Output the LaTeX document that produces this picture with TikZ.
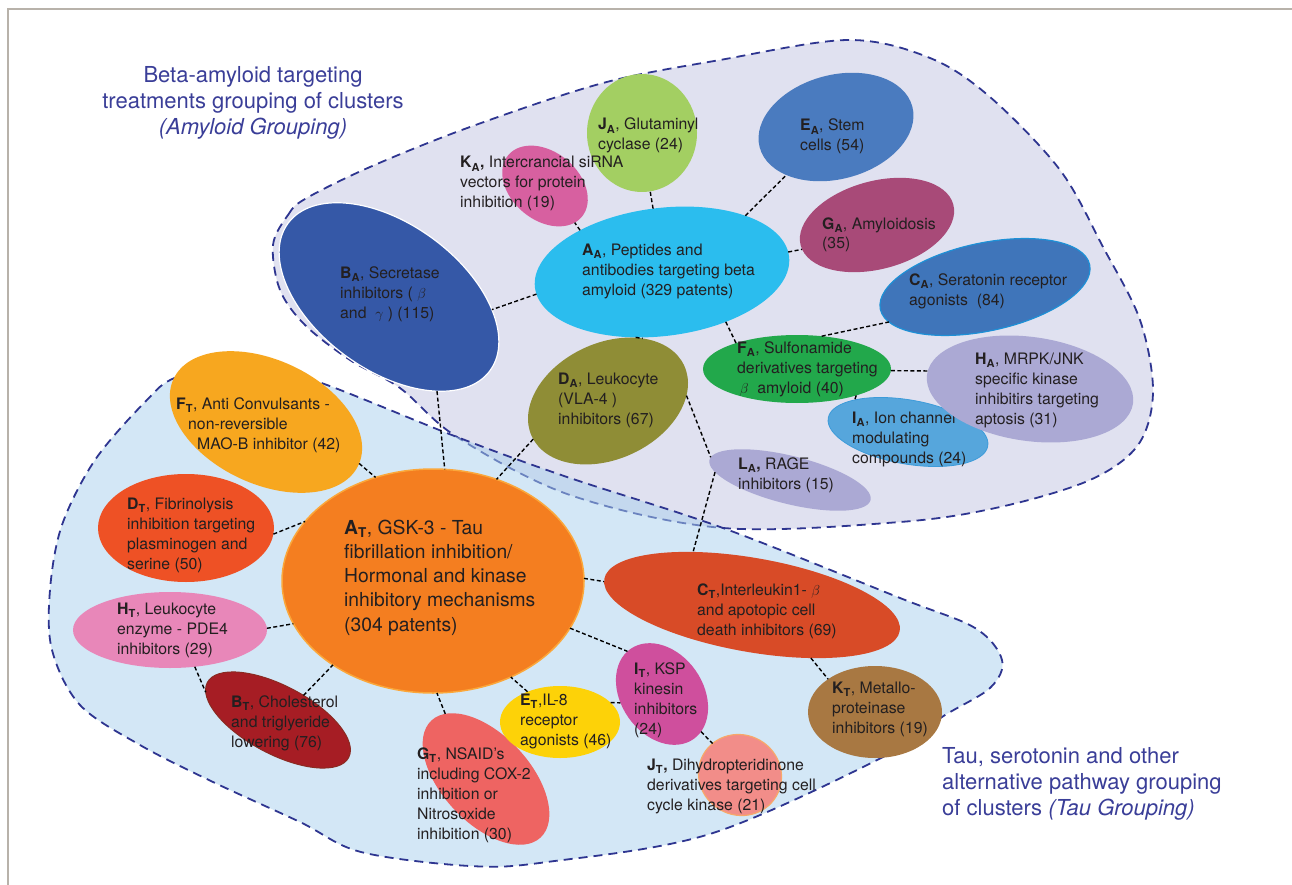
\documentclass[tikz,border=0pt]{standalone}
\usepackage{fontspec}
\setmainfont{TeX Gyre Heros}
\usetikzlibrary{shapes.geometric}
\definecolor{frameC}{HTML}{B8B2AA}
\definecolor{navyC}{HTML}{2E3590}
\definecolor{titleC}{HTML}{3A3E98}
\definecolor{txtC}{HTML}{231F20}
\definecolor{amyFill}{HTML}{E0E1F0}
\definecolor{tauFill}{HTML}{A9D1EE}
\definecolor{cBA}{HTML}{3558A7}
\definecolor{cJA}{HTML}{A3CF62}
\definecolor{cKA}{HTML}{D760A0}
\definecolor{cEA}{HTML}{4A7BBF}
\definecolor{cAA}{HTML}{2BBDEE}
\definecolor{cGA}{HTML}{A84A78}
\definecolor{cCA}{HTML}{3F75BA}
\definecolor{cCAo}{HTML}{1E90D6}
\definecolor{cFA}{HTML}{22A84B}
\definecolor{cHA}{HTML}{ABA9D4}
\definecolor{cIA}{HTML}{56A6DC}
\definecolor{cIAo}{HTML}{3D9BD9}
\definecolor{cLA}{HTML}{ABA9D4}
\definecolor{cDA}{HTML}{8F8D36}
\definecolor{cAT}{HTML}{F47E20}
\definecolor{cATo}{HTML}{FBA73A}
\definecolor{cFT}{HTML}{F7A71F}
\definecolor{cDT}{HTML}{EE5125}
\definecolor{cHT}{HTML}{E887B9}
\definecolor{cBT}{HTML}{A61D24}
\definecolor{cBTo}{HTML}{8A2A22}
\definecolor{cGT}{HTML}{EE6462}
\definecolor{cET}{HTML}{FDD208}
\definecolor{cIT}{HTML}{CF4F9D}
\definecolor{cJT}{HTML}{F28D89}
\definecolor{cJTo}{HTML}{F7A86A}
\definecolor{cCT}{HTML}{D84B27}
\definecolor{cKT}{HTML}{A87842}
\newcommand{\clab}[2]{\textbf{#1}\textsubscript{\textbf{#2}}}
\begin{document}
\begin{tikzpicture}[x=1pt,y=-1pt,
  ell/.style={ellipse, inner sep=0pt, outer sep=0pt},
  lbl/.style={anchor=base west, align=left, inner sep=0pt, text=txtC, font=\fontsize{15.8}{20}\selectfont},
  biglbl/.style={lbl, font=\fontsize{19.3}{24.2}\selectfont},
  ttl/.style={inner sep=0pt, text=titleC, font=\fontsize{22}{26}\selectfont},
  region/.style={draw=navyC, line width=1.8pt, dash pattern=on 9pt off 6pt},
  conn/.style={draw=black, line width=1.4pt, dash pattern=on 4pt off 2.5pt},
]
\useasboundingbox (0,0) rectangle (1292,885);
\fill[white] (0,0) rectangle (1292,885);
\draw[frameC, line width=2pt] (1292,9) -- (8,9) -- (8,885);

% regions
\path[region, fill=amyFill] plot[smooth cycle, tension=0.55] coordinates {
 (273,245) (288,215) (305,199) (370,167) (470,127) (603,83) (720,60) (848,40)
 (930,58) (990,97) (1060,170) (1103,247) (1140,320) (1153,392) (1138,445)
 (1090,480) (1000,507) (900,522) (723,528) (570,495) (457,437) (400,388)
 (350,360) (305,325) (280,290)};
\path[region, fill=tauFill, fill opacity=0.5] plot[smooth cycle, tension=0.55] coordinates {
 (177,377) (250,362) (327,385) (457,437) (567,477) (723,528) (900,598) (975,628)
 (1002,660) (990,688) (942,717) (897,750) (713,833) (547,862) (470,866) (361,852)
 (300,822) (213,782) (140,745) (80,705) (52,650) (50,590) (62,525) (95,460) (145,402)};

% titles (base anchor = last line)
\node[ttl, align=center, anchor=base] (tAmy) at (253,135) {Beta-amyloid targeting\\treatments grouping of clusters\\\textit{(Amyloid Grouping)}};
\node[ttl, align=left, anchor=base west] (tTau) at (942,815) {Tau, serotonin and other\\alternative pathway grouping\\of clusters \textit{(Tau Grouping)}};

% amyloid ellipses
\node[ell, fill=cBA, draw=white, line width=1.2pt, minimum width=250pt, minimum height=146pt, rotate=-36] (BA) at (389,297) {};
\node[ell, fill=cJA, minimum width=110pt, minimum height=118pt] (JA) at (642,133) {};
\node[ell, fill=cKA, minimum width=96pt, minimum height=68pt, rotate=-40] (KA) at (545,186) {};
\node[ell, fill=cEA, minimum width=158pt, minimum height=104pt, rotate=15] (EA) at (836,127) {};
\node[ell, fill=cAA, minimum width=256pt, minimum height=128pt, rotate=7] (AA) at (662,272) {};
\node[ell, fill=cGA, minimum width=158pt, minimum height=88pt, rotate=15] (GA) at (877,225) {};
\node[ell, fill=cCA, draw=cCAo, line width=1.2pt, minimum width=214pt, minimum height=88pt, rotate=12] (CA) at (985,287) {};
\node[ell, fill=cFA, minimum width=188pt, minimum height=68pt] (FA) at (797,369) {};
\node[ell, fill=cDA, minimum width=168pt, minimum height=116pt, rotate=25] (DA) at (608,401) {};
\node[ell, fill=cLA, minimum width=166pt, minimum height=48pt, rotate=-14] (LA) at (790,480) {};
\node[ell, fill=cIA, draw=cIAo, line width=0.8pt, minimum width=162pt, minimum height=64pt, rotate=-10] (IA) at (908,432) {};
\node[lbl] (tIA) at (852,463) {\clab{I}{A}, Ion channel\\modulating\\compounds (24)};
\node[ell, fill=cHA, minimum width=208pt, minimum height=104pt, rotate=-8] (HA) at (1030,389) {};

% tau ellipses
\node[ell, fill=cAT, draw=cATo, line width=1.5pt, minimum width=302pt, minimum height=224pt] (AT) at (433,581) {};
\node[ell, fill=cFT, minimum width=204pt, minimum height=124pt, rotate=-25] (FT) at (266,422) {};
\node[ell, fill=cDT, minimum width=176pt, minimum height=108pt] (DT) at (186,528) {};
\node[ell, fill=cHT, minimum width=194pt, minimum height=76pt] (HT) at (170,630) {};
\node[ell, fill=cBT, draw=cBTo, line width=1pt, minimum width=160pt, minimum height=68pt, rotate=-28] (BT) at (278,720) {};
\node[ell, fill=cGT, minimum width=160pt, minimum height=88pt, rotate=-47] (GT) at (486,779) {};
\node[ell, fill=cET, minimum width=120pt, minimum height=72pt] (ET) at (560,722) {};
\node[ell, fill=cIT, minimum width=110pt, minimum height=82pt, rotate=-55] (IT) at (662,694) {};
\node[ell, fill=cJT, draw=cJTo, line width=1.2pt, minimum width=84pt, minimum height=80pt, rotate=-30] (JT) at (740,775) {};
\node[ell, fill=cCT, minimum width=300pt, minimum height=94pt, rotate=-10] (CT) at (752,605) {};
\node[ell, fill=cKT, minimum width=134pt, minimum height=92pt] (KT) at (875,712) {};

% connectors
\draw[conn] (AA.91) -- (JA.278);
\draw[conn] (AA.146) -- (KA.349);
\draw[conn] (AA.27) -- (EA.209);
\draw[conn] (AA.2) -- (GA.183);
\draw[conn] (AA.183) -- (BA.29);
\draw[conn] (AA.315) -- (FA.157);
\draw[conn] (AA.241) -- (DA.36);
\draw[conn] (FA.53) -- (CA.188);
\draw[conn] (FA.359) -- (HA.178);
\draw[conn] (FA.336) -- (IA.159);
\draw[conn] (DA.339) -- (LA.178);
\draw[conn] (LA.188) -- (CT.148);
\draw[conn] (DA.182) -- (AT.58);
\draw[conn] (BA.333) -- (AT.84);
\draw[conn] (FT.1) -- (AT.119);
\draw[conn] (DT.356) -- (AT.155);
\draw[conn] (HT.1) -- (AT.197);
\draw[conn] (HT.304) -- (BT.187);
\draw[conn] (BT.72) -- (AT.220);
\draw[conn] (GT.169) -- (AT.272);
\draw[conn] (ET.137) -- (AT.309);
\draw[conn] (AT.1) -- (CT.181);
\draw[conn] (AT.341) -- (IT.184);
\draw[conn] (ET.21) -- (IT.247);
\draw[conn] (IT.11) -- (JT.161);
\draw[conn] (CT.328) -- (KT.145);

% labels (base anchor = baseline of last line)
\node[lbl] (tBA) at (340,318) {\clab{B}{A}, Secretase\\inhibitors ( $\beta$\\and\ \ $\gamma$ ) (115)};
\node[lbl] (tJA) at (598,150) {\clab{J}{A}, Glutaminyl\\cyclase (24)};
\node[lbl] (tKA) at (460,208) {\clab{K}{A}\textbf{,} Intercrancial siRNA\\vectors for protein\\inhibition (19)};
\node[lbl] (tEA) at (800,151) {\clab{E}{A}, Stem\\cells (54)};
\node[lbl] (tAA) at (582,295) {\clab{A}{A}, Peptides and\\antibodies targeting beta\\amyloid (329 patents)};
\node[lbl] (tGA) at (822,249) {\clab{G}{A}, Amyloidosis\\(35)};
\node[lbl] (tCA) at (909,305) {\clab{C}{A}, Seratonin receptor\\agonists\ \ (84)};
\node[lbl] (tFA) at (737,393) {\clab{F}{A}, Sulfonamide\\derivatives targeting\\\,$\beta$\ \ amyloid (40)};
\node[lbl] (tHA) at (975,424) {\clab{H}{A}, MRPK/JNK\\specific kinase\\inhibitirs targeting\\aptosis (31)};
\node[lbl] (tLA) at (738,489) {\clab{L}{A}\textbf{,} RAGE\\inhibitors (15)};
\node[lbl] (tDA) at (558,424) {\clab{D}{A}, Leukocyte\\(VLA-4 )\\inhibitors (67)};

\node[biglbl] (tAT) at (344,631) {\clab{A}{T}, GSK-3 - Tau\\fibrillation inhibition/\\Hormonal and kinase\\inhibitory mechanisms\\(304 patents)};
\node[lbl] (tFT) at (176,449) {\clab{F}{T}, Anti Convulsants -\\\hspace*{12pt}non-reversible\\\hspace*{21pt}MAO-B inhibitor (42)};
\node[lbl] (tDT) at (127,569) {\clab{D}{T}, Fibrinolysis\\inhibition targeting\\plasminogen and\\serine (50)};
\node[lbl] (tHT) at (117,654) {\clab{H}{T}, Leukocyte\\enzyme - PDE4\\inhibitors (29)};
\node[lbl] (tBT) at (231,747) {\clab{B}{T}, Cholesterol\\and triglyeride\\lowering (76)};
\node[lbl] (tGT) at (417,839) {\clab{G}{T}, NSAID's\\including COX-2\\inhibition or\\Nitrosoxide\\inhibition (30)};
\node[lbl] (tET) at (520,745) {\clab{E}{T},IL-8\\receptor\\agonists (46)};
\node[lbl] (tIT) at (634,734) {\clab{I}{T}, KSP\\kinesin\\inhibitors\\(24)};
\node[lbl] (tJT) at (647,810) {\clab{J}{T}\textbf{,} Dihydropteridinone\\derivatives targeting cell\\cycle kinase (21)};
\node[lbl] (tCT) at (697,635) {\clab{C}{T},Interleukin1- $\beta$\\and apotopic cell\\death inhibitors (69)};
\node[lbl] (tKT) at (832,733) {\clab{K}{T}, Metallo-\\proteinase\\inhibitors (19)};
\end{tikzpicture}
\end{document}
